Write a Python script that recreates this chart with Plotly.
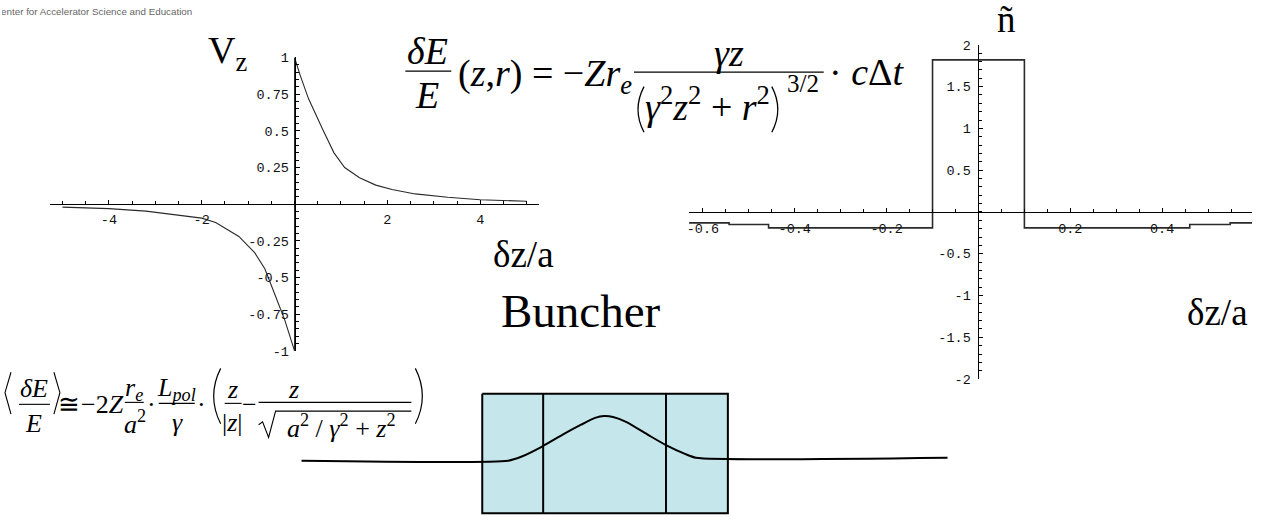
import plotly.graph_objects as go

W, H = 1287, 527
SERIF = "Liberation Serif, Times New Roman, serif"
MONO = "Liberation Mono, Courier New, monospace"
SANS = "Liberation Sans, Arial, sans-serif"

# ---- left panel: longitudinal field V_z versus dz/a ----
vz_neg_z = [-5.0, -4.5, -4.0, -3.2, -2.6, -2.0, -1.7, -1.2, -0.86, -0.64, -0.43, -0.21, 0.0]
vz_neg_v = [-0.02, -0.025, -0.03, -0.047, -0.07, -0.095, -0.125, -0.22, -0.33, -0.44, -0.61, -0.79, -1.0]
vz_pos_z = [0.0, 0.12, 0.3, 0.62, 0.85, 1.08, 1.4, 1.75, 2.1, 2.6, 3.3, 4.0, 4.5, 5.0]
vz_pos_v = [1.0, 0.88, 0.72, 0.5, 0.35, 0.25, 0.18, 0.13, 0.1, 0.07, 0.047, 0.03, 0.025, 0.02]
left_xticks = [-4, -2, 2, 4]
left_xtick_text = ["-4", "-2", "2", "4"]
left_yticks = [-1, -0.75, -0.5, -0.25, 0.25, 0.5, 0.75, 1]
left_ytick_text = ["-1", "-0.75", "-0.5", "-0.25", "0.25", "0.5", "0.75", "1"]

# ---- right panel: density n~ versus dz/a (step profile) ----
n_edges = [-0.63, -0.543, -0.457, -0.1, 0.1, 0.46, 0.548, 0.596]
n_levels = [-0.13, -0.15, -0.19, 1.82, -0.19, -0.15, -0.13, -0.13]
right_xticks = [-0.6, -0.4, -0.2, 0.2, 0.4]
right_xtick_text = ["-0.6", "-0.4", "-0.2", "0.2", "0.4"]
right_yticks = [-2, -1.5, -1, -0.5, 0.5, 1, 1.5, 2]
right_ytick_text = ["-2", "-1.5", "-1", "-0.5", "0.5", "1", "1.5", "2"]

# ---- buncher sketch (pixel canvas) ----
box_left, box_right, box_top, box_bottom = 481, 727, 399, 522
box_dividers = [542, 665]
beam_x = [300, 507, 520, 540, 562, 580, 594, 603, 612, 625, 648, 665, 684, 695, 947]
beam_y = [468, 468, 464, 454, 441, 431, 424, 422, 423, 428, 442, 452, 461, 465, 465]

header_text = "Center for Accelerator Science and Education"


def px(x):
    return x / W


def py(y):
    return 1 - y / H


fig = go.Figure()

fig.add_trace(go.Scatter(
    x=vz_neg_z + vz_pos_z, y=vz_neg_v + vz_pos_v, mode="lines",
    line=dict(color="#2a2a2a", width=1.1), xaxis="x", yaxis="y", hoverinfo="skip"))

fig.add_trace(go.Scatter(
    x=n_edges, y=n_levels, mode="lines", line_shape="hv",
    line=dict(color="#2a2a2a", width=1.6), xaxis="x2", yaxis="y2", hoverinfo="skip"))

fig.add_trace(go.Scatter(
    x=[box_left, box_right, box_right, box_left, box_left],
    y=[box_top, box_top, box_bottom, box_bottom, box_top],
    mode="lines", fill="toself", fillcolor="#C5E6EA",
    line=dict(color="black", width=2), xaxis="x3", yaxis="y3", hoverinfo="skip"))
for xd in box_dividers:
    fig.add_trace(go.Scatter(
        x=[xd, xd], y=[box_top, box_bottom], mode="lines",
        line=dict(color="black", width=2), xaxis="x3", yaxis="y3", hoverinfo="skip"))
fig.add_trace(go.Scatter(
    x=beam_x, y=beam_y, mode="lines", line_shape="spline",
    line=dict(color="black", width=2, smoothing=0.6), xaxis="x3", yaxis="y3", hoverinfo="skip"))

# header strip, clipped at the page's left edge
fig.add_trace(go.Scatter(
    x=[-8.0], y=[7], mode="text", text=[header_text], textposition="middle right",
    textfont=dict(family=SANS, size=9.8, color="#666666"), cliponaxis=True,
    xaxis="x3", yaxis="y3", hoverinfo="skip"))

tickfont = dict(family=MONO, size=13.5, color="#111111")


def plot_axis(domain, rng, pos, vals, text, minor_step, side_len=4, standoff=4):
    return dict(
        domain=domain, range=rng, anchor="free", position=pos,
        showline=True, linecolor="black", linewidth=1,
        ticks="inside", ticklen=side_len, tickwidth=1, tickcolor="black",
        tickmode="array", tickvals=vals, ticktext=text, tickfont=tickfont,
        minor=dict(ticks="inside", ticklen=3, tickwidth=1, tickcolor="black",
                   tickmode="linear", tick0=0, dtick=minor_step),
        showgrid=False, zeroline=False, fixedrange=True,
        ticklabelstandoff=standoff,
    )


layout = dict(
    width=W, height=H, margin=dict(l=0, r=0, t=0, b=0),
    paper_bgcolor="white", plot_bgcolor="rgba(0,0,0,0)", showlegend=False,
    xaxis=plot_axis([px(48), px(538)], [-5.27, 5.27], py(204),
                    left_xticks, left_xtick_text, 0.5, standoff=3),
    yaxis=plot_axis([py(355), py(53)], [-1, 1], px(293),
                    left_yticks, left_ytick_text, 0.05, standoff=3),
    xaxis2=plot_axis([px(688), px(1252)], [-0.6304, 0.5957], py(212),
                     right_xticks, right_xtick_text, 0.05, standoff=4),
    yaxis2=plot_axis([py(384), py(40)], [-2, 2], px(978),
                     right_yticks, right_ytick_text, 0.1, standoff=5),
    xaxis3=dict(domain=[0, 1], range=[0, W], anchor="y3", visible=False, fixedrange=True),
    yaxis3=dict(domain=[0, 1], range=[H, 0], anchor="x3", visible=False, fixedrange=True),
)
fig.update_layout(**layout)

annotations = []


def label(text, x, y, size, xanchor="center", family=SERIF, color="black", pad=1):
    annotations.append(dict(
        text=text, x=px(x), y=py(y), xref="paper", yref="paper",
        xanchor=xanchor, yanchor="middle", showarrow=False, borderpad=pad,
        font=dict(family=family, size=size, color=color)))


shapes = []


def bar(x0, x1, y, w=1.3):
    shapes.append(dict(type="line", xref="paper", yref="paper",
                       x0=px(x0), x1=px(x1), y0=py(y), y1=py(y),
                       line=dict(color="black", width=w)))


def polyline(points, w=1.3):
    d = "M {:.5f},{:.5f}".format(px(points[0][0]), py(points[0][1]))
    for a, b in points[1:]:
        d += " L {:.5f},{:.5f}".format(px(a), py(b))
    shapes.append(dict(type="path", xref="paper", yref="paper", path=d,
                       line=dict(color="black", width=w)))


def paren(x_end, x_mid, y0, y1, w=1.3):
    d = "M {:.5f},{:.5f} Q {:.5f},{:.5f} {:.5f},{:.5f}".format(
        px(x_end), py(y0), px(x_mid), py((y0 + y1) / 2), px(x_end), py(y1))
    shapes.append(dict(type="path", xref="paper", yref="paper", path=d,
                       line=dict(color="black", width=w)))


# panel labels
label("V<sub>z</sub>", 204, 48, 38, "left")
label("δz/a", 490, 256, 37, "left")
label("ñ", 1006, 14, 37)
label("δz/a", 1185, 315, 37, "left")
label("Buncher", 498, 314, 47, "left")

# energy kick formula (top)
label("<i>δE</i>", 426, 46, 38)
bar(404, 450, 67)
label("<i>E</i>", 426, 92, 38)
label("(<i>z</i>,<i>r</i>) = −<i>Zr<sub>e</sub></i>", 455, 72, 38, "left")
label("<i>γz</i>", 728, 48, 38)
bar(633, 823, 68)
paren(643, 631, 83, 130)
label("<i>γ</i><sup>2</sup><i>z</i><sup>2</sup> + <i>r</i><sup>2</sup>", 707, 101, 38)
paren(771, 783, 83, 130)
label("3/2", 802, 80, 25)
label("· <i>c</i>Δ<i>t</i>", 826, 68, 38, "left")

# averaged kick formula (bottom left)
polyline([(9, 377), (3, 398), (9, 420)], 1.1)
label("<i>δE</i>", 32, 394, 26)
bar(17, 48, 410, 1.1)
label("<i>E</i>", 32, 430, 26)
polyline([(52, 377), (58, 398), (52, 420)], 1.1)
label("≅", 67, 410, 26)
label("−2<i>Z</i>", 77, 410, 26, "left")
label("<i>r<sub>e</sub></i>", 132, 394, 26)
bar(123, 142, 408, 1.1)
label("<i>a</i><sup>2</sup>", 133, 429, 26)
label("·", 150, 410, 26)
label("<i>L<sub>pol</sub></i>", 175, 394, 26)
bar(157, 193, 409, 1.1)
label("<i>γ</i>", 176, 429, 26)
label("·", 200, 410, 26)
paren(219, 205, 373, 430, 1.2)
label("<i>z</i>", 231, 395, 26)
bar(223, 240, 409, 1.1)
label("|<i>z</i>|", 231, 429, 26)
label("−", 248, 410, 26)
label("<i>z</i>", 292, 395, 26)
bar(257, 410, 408, 1.1)
polyline([(257, 431), (261, 428), (267, 444), (274, 417), (410, 417)], 1.1)
label("<i>a</i><sup>2</sup> / <i>γ</i><sup>2</sup> + <i>z</i><sup>2</sup>", 340, 433, 26)
paren(414, 428, 373, 430, 1.2)

fig.update_layout(annotations=annotations, shapes=shapes)
fig.write_html("out.html")
